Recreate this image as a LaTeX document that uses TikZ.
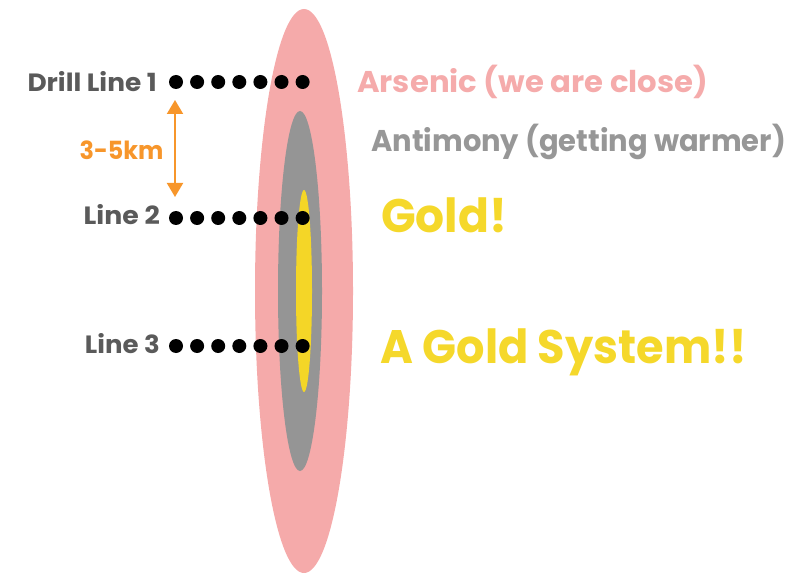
\documentclass[tikz,border=0pt]{standalone}
\usepackage{fontspec}
\setmainfont{Poppins}
\usetikzlibrary{arrows.meta}
\definecolor{pinkz}{HTML}{F5AAAA}
\definecolor{grayz}{HTML}{959595}
\definecolor{yellowz}{HTML}{F4D627}
\definecolor{pinktxt}{HTML}{F5ABAB}
\definecolor{graytxt}{HTML}{979797}
\definecolor{goldtxt}{HTML}{F5D82B}
\definecolor{orangez}{HTML}{F7962B}
\definecolor{labtxt}{HTML}{5A5A5A}
\begin{document}
\begin{tikzpicture}[x=1pt,y=-1pt,
  dot/.style={circle,fill=black,inner sep=0pt,minimum size=14pt},
  lab/.style={inner sep=0pt,anchor=base east,text=labtxt,font=\bfseries\fontsize{25}{25}\selectfont},
  zone/.style={inner sep=0pt,anchor=base west,font=\bfseries\fontsize{30}{30}\selectfont},
  goldlab/.style={inner sep=0pt,anchor=base west,text=goldtxt,font=\bfseries\fontsize{47}{47}\selectfont}]
\useasboundingbox (0,0) rectangle (794,577);
% zones
\fill[pinkz] (304,291) ellipse [x radius=49, y radius=282];
\fill[grayz] (300,291) ellipse [x radius=22, y radius=180];
\fill[yellowz] (304,291) ellipse [x radius=8, y radius=101];
% labels
\node[lab] (l1) at (157,92) {\scalebox{1.055}[1]{Drill Line 1}};
\node[lab] (l2) at (160,225) {\scalebox{1.07}[1]{Line 2}};
\node[lab] (l3) at (160,353) {\scalebox{1.04}[1]{Line 3}};
\node[inner sep=0pt,anchor=base,text=orangez,font=\bfseries\fontsize{25}{25}\selectfont] (km) at (121.5,160) {\scalebox{0.955}[1]{3-5km}};
% dots
\foreach \r/\y in {1/82,2/218,3/346}{
  \foreach \i in {0,...,6}{
    \node[dot] (d\r-\i) at ({176+21.1*\i},\y) {};
  }
}
% arrow
\coordinate (at) at (175,100);
\coordinate (ab) at (175,197);
\draw[orangez,line width=2pt,{Triangle[width=16pt,length=14pt]}-{Triangle[width=16pt,length=14pt]}] (at) -- (ab);
% zone texts
\node[zone,text=pinktxt] (ars) at (357,93) {\scalebox{1.024}[1]{Arsenic (we are close)}};
\node[zone,text=graytxt] (ant) at (371,152) {\scalebox{0.965}[1]{Antimony (getting warmer)}};
\node[goldlab] (g1) at (381,233) {\scalebox{0.97}[1]{Gold!}};
\node[goldlab] (g2) at (380,363) {\scalebox{0.95}[1]{A Gold System!!}};
\end{tikzpicture}
\end{document}
